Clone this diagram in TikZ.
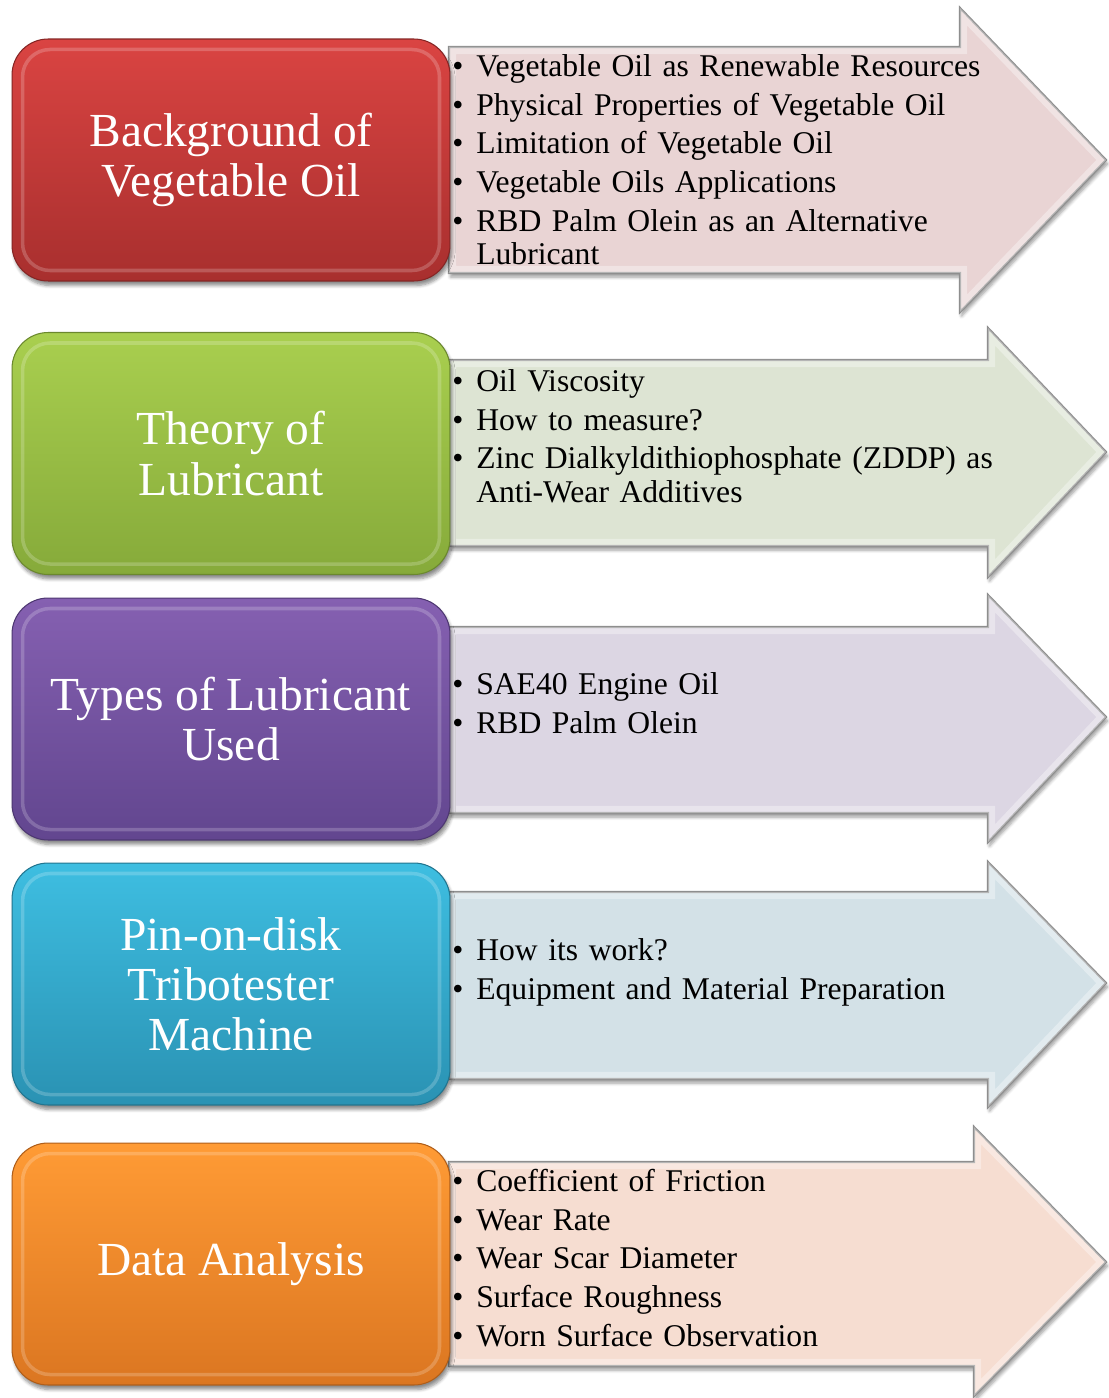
\documentclass[tikz,border=0pt]{standalone}
\usepackage{fontspec}
\setmainfont{Liberation Serif}
\usetikzlibrary{positioning,shadows.blur}
\definecolor{redtop}{HTML}{DA4442}
\definecolor{redbot}{HTML}{A82F2E}
\definecolor{greentop}{HTML}{A9CF4F}
\definecolor{greenbot}{HTML}{86AA3A}
\definecolor{purpletop}{HTML}{8560B1}
\definecolor{purplebot}{HTML}{62468F}
\definecolor{cyantop}{HTML}{3EBEE1}
\definecolor{cyanbot}{HTML}{2A92B3}
\definecolor{orangetop}{HTML}{FF9B35}
\definecolor{orangebot}{HTML}{DB7621}
\definecolor{redlight}{HTML}{E9D4D4}
\definecolor{greenlight}{HTML}{DDE4D3}
\definecolor{purplelight}{HTML}{DCD6E3}
\definecolor{cyanlight}{HTML}{D3E1E7}
\definecolor{orangelight}{HTML}{F6DDD1}
\definecolor{edgegray}{HTML}{8E8E8E}
\newcommand{\bitem}{\par\noindent\strut\makebox[0.48cm][l]{\textbullet}}
\newcommand{\bwrap}{\newline\hspace*{0.48cm}}
% arrow outline: body top, body bottom, head top, head bottom, head base, tip y
\newcommand{\arrowpath}[6]{(449,#1) -- (#5,#1) -- (#5,#3) -- (1106,#6) -- (#5,#4) -- (#5,#2) -- (449,#2) -- cycle}

\begin{document}
\begin{tikzpicture}[x=0.02cm, y=-0.02cm,
  topic/.style 2 args={rectangle, rounded corners=0.72cm, minimum width=8.76cm, minimum height=4.84cm,
    top color=#1, bottom color=#2, draw=#2!80!black, line width=0.6pt, align=center, text=white,
    font=\fontsize{27}{28.5}\selectfont,
    blur shadow={shadow blur steps=6, shadow xshift=0.4mm, shadow yshift=-0.9mm, shadow opacity=45}},
  rim/.style={white, opacity=0.2, line width=2pt, rounded corners=0.55cm},
  arrowbody/.style={fill=#1, draw=edgegray, line width=1.2pt, line join=miter,
    blur shadow={shadow blur steps=5, shadow xshift=0.3mm, shadow yshift=-0.8mm, shadow opacity=40}},
  bevel/.style={white, opacity=0.35, line width=8pt, line join=miter},
  bullets/.style={anchor=north west, inner sep=0pt, text width=12.5cm, align=left,
    font=\fontsize{18}{19}\selectfont\setlength{\parskip}{3.1pt}}
]
  \useasboundingbox (0,0) rectangle (1108,1398);

  \draw[arrowbody=redlight] \arrowpath{47}{273}{8}{312}{960}{160};
  \begin{scope}\clip \arrowpath{47}{273}{8}{312}{960}{160}; \draw[bevel] \arrowpath{47}{273}{8}{312}{960}{160}; \end{scope}
  \draw[arrowbody=greenlight] \arrowpath{360}{546}{328}{577}{988}{452};
  \begin{scope}\clip \arrowpath{360}{546}{328}{577}{988}{452}; \draw[bevel] \arrowpath{360}{546}{328}{577}{988}{452}; \end{scope}
  \draw[arrowbody=purplelight] \arrowpath{627}{813}{595}{842}{988}{717};
  \begin{scope}\clip \arrowpath{627}{813}{595}{842}{988}{717}; \draw[bevel] \arrowpath{627}{813}{595}{842}{988}{717}; \end{scope}
  \draw[arrowbody=cyanlight] \arrowpath{892}{1079}{862}{1107}{988}{983};
  \begin{scope}\clip \arrowpath{892}{1079}{862}{1107}{988}{983}; \draw[bevel] \arrowpath{892}{1079}{862}{1107}{988}{983}; \end{scope}
  \draw[arrowbody=orangelight] \arrowpath{1162}{1366}{1127}{1396}{974}{1262};
  \begin{scope}\clip \arrowpath{1162}{1366}{1127}{1396}{974}{1262}; \draw[bevel] \arrowpath{1162}{1366}{1127}{1396}{974}{1262}; \end{scope}

  \node[topic={redtop}{redbot}] (b1) at (231,160) {Background of\\Vegetable Oil};
  \node[topic={greentop}{greenbot}] (b2) at (231,453.5) {Theory of\\Lubricant};
  \node[topic={purpletop}{purplebot}] (b3) at (231,719) {Types of Lubricant\\Used};
  \node[topic={cyantop}{cyanbot}] (b4) at (231,984) {Pin-on-disk\\Tribotester\\Machine};
  \node[topic={orangetop}{orangebot}] (b5) at (231,1264) {Data Analysis};

  \draw[rim] ([xshift=0.22cm,yshift=0.22cm]b1.south west) rectangle ([xshift=-0.22cm,yshift=-0.22cm]b1.north east);
  \draw[rim] ([xshift=0.22cm,yshift=0.22cm]b2.south west) rectangle ([xshift=-0.22cm,yshift=-0.22cm]b2.north east);
  \draw[rim] ([xshift=0.22cm,yshift=0.22cm]b3.south west) rectangle ([xshift=-0.22cm,yshift=-0.22cm]b3.north east);
  \draw[rim] ([xshift=0.22cm,yshift=0.22cm]b4.south west) rectangle ([xshift=-0.22cm,yshift=-0.22cm]b4.north east);
  \draw[rim] ([xshift=0.22cm,yshift=0.22cm]b5.south west) rectangle ([xshift=-0.22cm,yshift=-0.22cm]b5.north east);

  \node[bullets] (t1) at (452,37) {\bitem Vegetable Oil as Renewable Resources
    \bitem Physical Properties of Vegetable Oil
    \bitem Limitation of Vegetable Oil
    \bitem Vegetable Oils Applications
    \bitem RBD Palm Olein as an Alternative\bwrap Lubricant};
  \node[bullets] (t2) at (452,352) {\bitem Oil Viscosity
    \bitem How to measure?
    \bitem Zinc Dialkyldithiophosphate (ZDDP) as\bwrap Anti-Wear Additives};
  \node[bullets] (t3) at (452,655) {\bitem SAE40 Engine Oil
    \bitem RBD Palm Olein};
  \node[bullets] (t4) at (452,921) {\bitem How its work?
    \bitem Equipment and Material Preparation};
  \node[bullets] (t5) at (452,1152) {\bitem Coefficient of Friction
    \bitem Wear Rate
    \bitem Wear Scar Diameter
    \bitem Surface Roughness
    \bitem Worn Surface Observation};
\end{tikzpicture}
\end{document}
